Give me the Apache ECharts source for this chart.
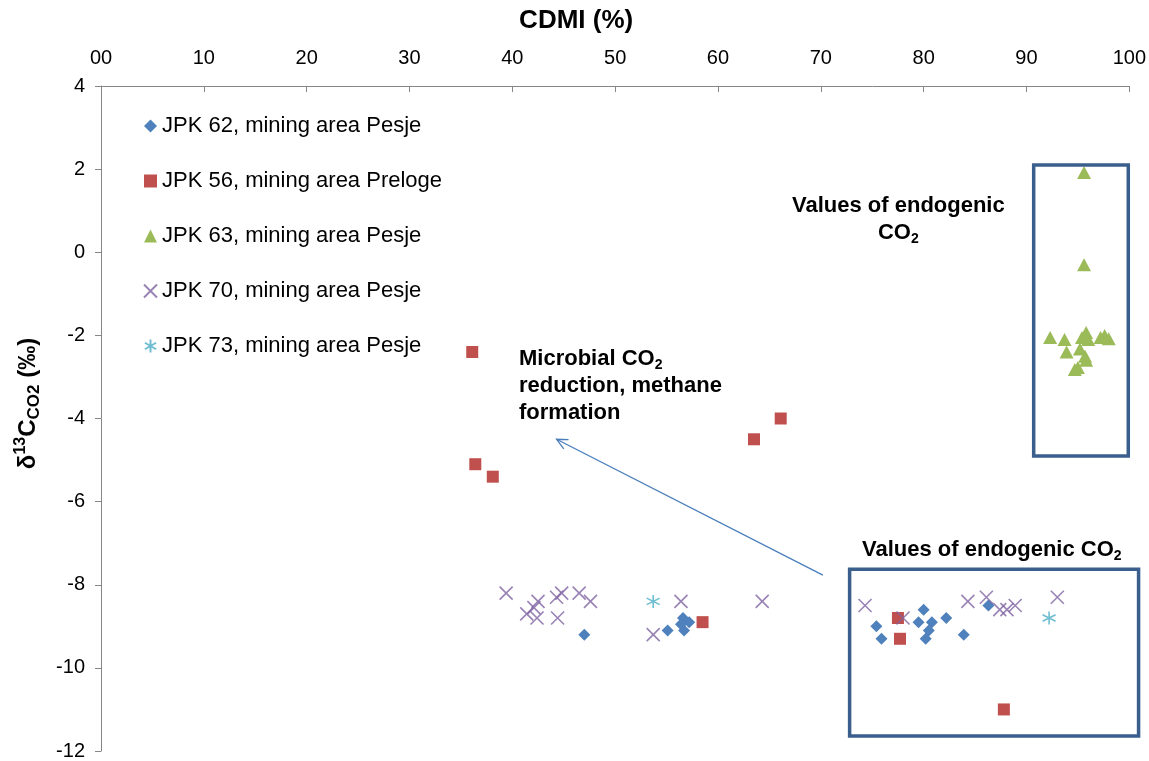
<!DOCTYPE html>
<html>
<head>
<meta charset="utf-8">
<script src="https://cdn.jsdelivr.net/npm/echarts@6/dist/echarts.min.js"></script>
<style>
  html, body { margin: 0; padding: 0; background: #fff; }
  #chart { width: 1149px; height: 761px; }
</style>
</head>
<body>
<div id="chart"></div>
<script>
// Axis ticks
const xTickValues = [0, 10, 20, 30, 40, 50, 60, 70, 80, 90, 100];
const xTickLabels = ['00', '10', '20', '30', '40', '50', '60', '70', '80', '90', '100'];
const yTickValues = [4, 2, 0, -2, -4, -6, -8, -10, -12];

// Series names
const seriesNames = [
  'JPK 62, mining area Pesje',
  'JPK 56, mining area Preloge',
  'JPK 63, mining area Pesje',
  'JPK 70, mining area Pesje',
  'JPK 73, mining area Pesje'
];

// [CDMI %, δ13C CO2 ‰]
const jpk62 = [
  [47.0, -9.2], [55.1, -9.1], [56.6, -8.8], [57.2, -8.9], [56.7, -9.1], [56.4, -8.95],
  [75.4, -9.0], [75.9, -9.3], [80.0, -8.6], [79.5, -8.9], [80.8, -8.9], [80.5, -9.1],
  [80.2, -9.3], [82.2, -8.8], [83.9, -9.2], [86.3, -8.5]
];
const jpk56 = [
  [36.1, -2.4], [36.4, -5.1], [38.1, -5.4], [63.5, -4.5], [66.1, -4.0],
  [58.5, -8.9], [77.5, -8.8], [77.7, -9.3], [87.8, -11.0]
];
const jpk63 = [
  [95.6, 1.92], [95.6, -0.3], [92.3, -2.05], [93.7, -2.1], [93.9, -2.4], [95.8, -1.93],
  [95.4, -2.05], [96.0, -2.1], [95.2, -2.33], [95.7, -2.5], [95.8, -2.6], [94.7, -2.82],
  [95.0, -2.77], [97.2, -2.05], [97.6, -2.0], [98.0, -2.08]
];
const jpk70 = [
  [39.4, -8.2], [42.5, -8.4], [42.1, -8.55], [41.4, -8.7], [42.4, -8.8], [44.3, -8.3],
  [44.8, -8.2], [46.5, -8.2], [47.6, -8.4], [44.4, -8.8], [53.7, -9.2], [56.4, -8.4],
  [64.3, -8.4], [74.3, -8.5], [78.0, -8.8], [84.3, -8.4], [86.1, -8.3], [87.4, -8.6],
  [88.1, -8.6], [88.9, -8.5], [93.0, -8.3]
];
const jpk73 = [
  [53.7, -8.4], [92.2, -8.8]
];

// Annotation frames and arrow, in data units
const frameUpper = { x0: 90.7, x1: 99.9, y0: 2.1, y1: -4.9 };
const frameLower = { x0: 72.8, x1: 100.9, y0: -7.63, y1: -11.64 };
const arrowFrom = [70.2, -7.77];
const arrowTo = [44.3, -4.5];

const COLORS = ['#4F81BD', '#C0504D', '#9BBB59', '#8064A2', '#4BACC6'];
const FRAME_COLOR = '#3A5F8C';
const FONT = 'Arial, "Liberation Sans", Helvetica, sans-serif';

const crossPath = 'path://M0,0L10,10M10,0L0,10';
const starPath = 'path://M5,0L5,10M0.7,2.5L9.3,7.5M0.7,7.5L9.3,2.5';

function scatter(name, data, symbol, size, color, stroke) {
  return {
    name, type: 'scatter', data, symbol, symbolSize: size,
    itemStyle: stroke
      ? { color: color, borderColor: color, borderWidth: 1.6 }
      : { color: color, opacity: 1 },
    emphasis: { disabled: true },
    z: 3
  };
}

const chart = echarts.init(document.getElementById('chart'), null, { renderer: 'canvas' });

const option = {
  animation: false,
  backgroundColor: '#ffffff',
  textStyle: { fontFamily: FONT },
  grid: { left: 101, right: 18, top: 86, bottom: 9, containLabel: false },
  xAxis: {
    type: 'value', position: 'top', min: 0, max: 100, interval: 10,
    name: 'CDMI (%)', nameLocation: 'middle', nameGap: 52,
    nameTextStyle: {
      fontSize: 26, fontWeight: 'bold', color: '#000', fontFamily: FONT,
      padding: [0, 78, 0, 0]
    },
    axisLine: { show: true, onZero: false, lineStyle: { color: '#868686', width: 1 } },
    axisTick: { show: true, inside: true, length: 6, lineStyle: { color: '#868686' } },
    axisLabel: {
      fontSize: 20, color: '#000', margin: 18, fontFamily: FONT,
      formatter: v => xTickLabels[xTickValues.indexOf(v)] ?? String(v)
    },
    splitLine: { show: false }
  },
  yAxis: {
    type: 'value', min: -12, max: 4, interval: 2,
    name: '{m|δ}{sup|13}{m|C}{sub|CO2}{m| (‰)}',
    nameLocation: 'middle', nameGap: 58, nameRotate: 90,
    nameTextStyle: {
      color: '#000', fontFamily: FONT,
      padding: [0, 0, 0, 30],
      rich: {
        m: { fontSize: 24, fontWeight: 'bold', lineHeight: 30, color: '#000', fontFamily: FONT },
        sup: { fontSize: 16, fontWeight: 'bold', lineHeight: 16, verticalAlign: 'top', color: '#000', fontFamily: FONT },
        sub: { fontSize: 17, fontWeight: 'bold', lineHeight: 17, verticalAlign: 'bottom', color: '#000', fontFamily: FONT }
      }
    },
    axisLine: { show: true, onZero: false, lineStyle: { color: '#868686', width: 1 } },
    axisTick: { show: true, inside: false, length: 6, lineStyle: { color: '#868686' } },
    axisLabel: {
      fontSize: 20, color: '#000', margin: 16, fontFamily: FONT,
      formatter: v => (yTickValues.includes(v) ? String(v) : '')
    },
    splitLine: { show: false }
  },
  legend: {
    orient: 'vertical', left: 138, top: 110,
    itemWidth: 13, itemHeight: 13, itemGap: 33,
    data: seriesNames,
    textStyle: { fontSize: 22, color: '#000', fontFamily: FONT, lineHeight: 22 },
    selectedMode: false
  },
  series: [
    scatter(seriesNames[0], jpk62, 'diamond', 12, COLORS[0], false),
    scatter(seriesNames[1], jpk56, 'rect', 12, COLORS[1], false),
    scatter(seriesNames[2], jpk63, 'triangle', [14, 13], COLORS[2], false),
    scatter(seriesNames[3], jpk70, crossPath, 13, COLORS[3], true),
    scatter(seriesNames[4], jpk73, starPath, 13, COLORS[4], true)
  ]
};

chart.setOption(option);

// Annotation overlay placed through the grid's own coordinate system
const px = pt => chart.convertToPixel({ gridIndex: 0 }, pt);

function frame(f) {
  const a = px([f.x0, f.y0]);
  const b = px([f.x1, f.y1]);
  return {
    type: 'rect', z: 10, silent: true,
    shape: { x: a[0], y: a[1], width: b[0] - a[0], height: b[1] - a[1] },
    style: { fill: 'none', stroke: FRAME_COLOR, lineWidth: 3.5 }
  };
}

const tail = px(arrowFrom);
const head = px(arrowTo);
const dx = head[0] - tail[0], dy = head[1] - tail[1];
const len = Math.hypot(dx, dy);
const ux = dx / len, uy = dy / len;
const wing = 12, spread = 0.45;

// back-direction of the arrow rotated by ±spread
function arrowWing(sign) {
  const bx = -ux, by = -uy;
  const c = Math.cos(sign * spread), s = Math.sin(sign * spread);
  return [head[0] + wing * (bx * c - by * s), head[1] + wing * (bx * s + by * c)];
}

const labelRich = {
  b: { fontSize: 22, fontWeight: 'bold', fill: '#000', fontFamily: FONT, lineHeight: 27 },
  s: { fontSize: 14, fontWeight: 'bold', fill: '#000', fontFamily: FONT, lineHeight: 14, verticalAlign: 'bottom' }
};

chart.setOption({
  graphic: [
    frame(frameUpper),
    frame(frameLower),
    {
      type: 'polyline', z: 10, silent: true,
      shape: { points: [tail, head] },
      style: { stroke: '#4A7EBB', lineWidth: 1.3, fill: 'none' }
    },
    {
      type: 'polyline', z: 10, silent: true,
      shape: { points: [arrowWing(1), head, arrowWing(-1)] },
      style: { stroke: '#4A7EBB', lineWidth: 1.3, fill: 'none' }
    },
    {
      type: 'text', z: 11, silent: true, left: 519, top: 348,
      style: {
        text: '{b|Microbial CO}{s|2}\n{b|reduction, methane}\n{b|formation}',
        rich: labelRich, textAlign: 'left'
      }
    },
    {
      type: 'text', z: 11, silent: true, left: 792, top: 195,
      style: {
        text: '{b|Values of endogenic}\n{b|CO}{s|2}',
        rich: labelRich, textAlign: 'center', align: 'center'
      }
    },
    {
      type: 'text', z: 11, silent: true, left: 862, top: 539,
      style: {
        text: '{b|Values of endogenic CO}{s|2}',
        rich: labelRich
      }
    }
  ]
});
</script>
</body>
</html>
